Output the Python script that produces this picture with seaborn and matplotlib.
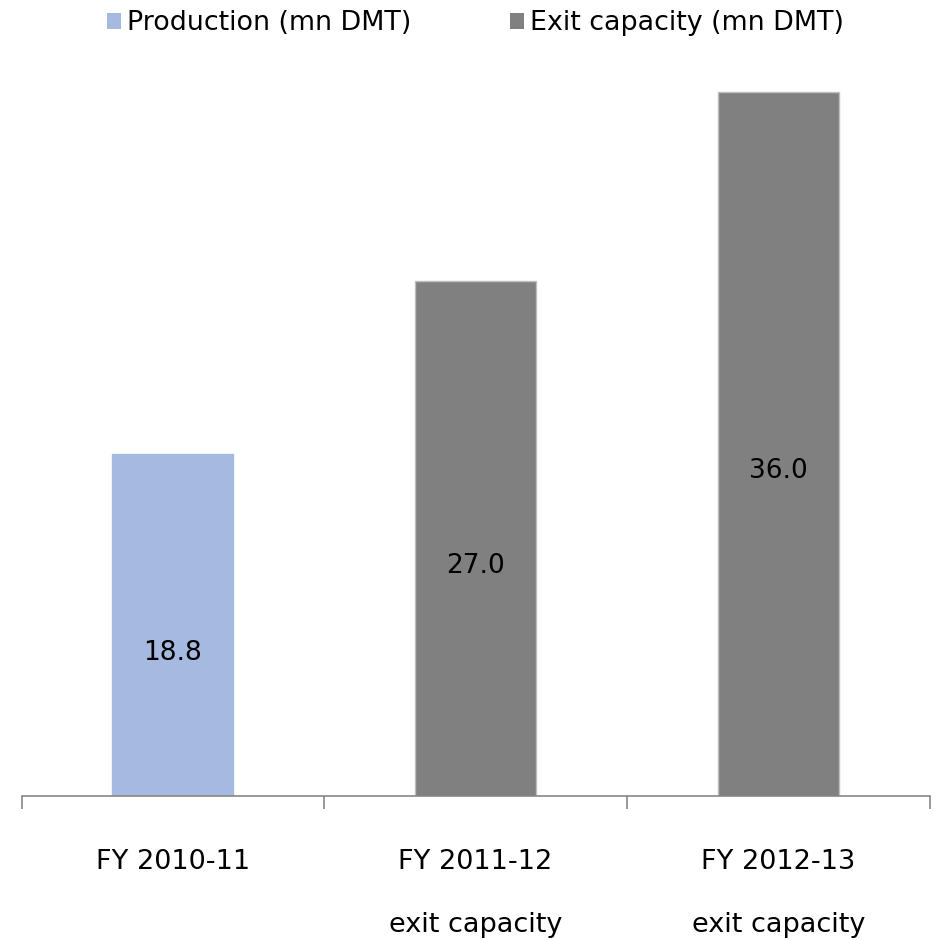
import matplotlib
matplotlib.use("Agg")
import matplotlib.pyplot as plt
from matplotlib.patches import Patch
from matplotlib.ticker import FixedLocator
import seaborn as sns
import pandas as pd

# Chart data
categories = ["FY 2010-11", "FY 2011-12\nexit capacity", "FY 2012-13\nexit capacity"]
values = [18.8, 27.0, 36.0]
series = ["Production (mn DMT)", "Exit capacity (mn DMT)", "Exit capacity (mn DMT)"]
series_order = ["Production (mn DMT)", "Exit capacity (mn DMT)"]
series_colors = {"Production (mn DMT)": "#A6B9E0", "Exit capacity (mn DMT)": "#808080"}
series_edges = {"Production (mn DMT)": "#A6B9E0", "Exit capacity (mn DMT)": "#BFBFBF"}

df = pd.DataFrame({"category": categories, "value": values, "series": series})

sns.set_theme(style="white")
plt.rcParams["font.family"] = ["DejaVu Sans"]
plt.rcParams["text.color"] = "#000000"

fig = plt.figure(figsize=(9.38, 9.40), dpi=100)
ax = fig.add_axes([0.023, 0.1532, 0.968, 0.839])

sns.barplot(data=df, x="category", y="value", hue="series", hue_order=series_order,
            palette=series_colors, dodge=False, width=0.4, legend=False, ax=ax,
            saturation=1)

for container, name in zip(ax.containers, series_order):
    for bar in container:
        bar.set_edgecolor(series_edges[name])
        bar.set_linewidth(1.0)

# Value labels at the middle of each bar's full height
for i, v in enumerate(values):
    ax.text(i, v / 2, f"{v:.1f}", ha="center", va="center", fontsize=19, color="#000000")

ax.set_xlim(-0.5, 2.5)
ax.set_ylim(2.6, 40)
ax.set_xlabel("")
ax.set_ylabel("")
ax.set_yticks([])

for side in ["top", "right", "left"]:
    ax.spines[side].set_visible(False)
ax.spines["bottom"].set_color("#868686")
ax.spines["bottom"].set_linewidth(1.2)

# Category boundary ticks below the axis line
ax.xaxis.set_minor_locator(FixedLocator([-0.5, 0.5, 1.5, 2.5]))
ax.tick_params(axis="x", which="minor", direction="out", length=9, width=1.2,
               color="#868686", bottom=True)
ax.tick_params(axis="x", which="major", length=0, pad=38.5, labelsize=19.5,
               labelcolor="#000000")
for lbl in ax.get_xticklabels():
    lbl.set_linespacing(2.85)

handles = [Patch(facecolor=series_colors[s], edgecolor="none", label=s) for s in series_order]
fig.legend(handles=handles, loc="center", bbox_to_anchor=(0.507, 0.975), ncol=2,
           frameon=False, fontsize=19.4, handlelength=0.52, handleheight=0.52,
           handletextpad=0.22, columnspacing=3.68, labelcolor="#000000")

fig.savefig("out.png", dpi=100, facecolor="white")
